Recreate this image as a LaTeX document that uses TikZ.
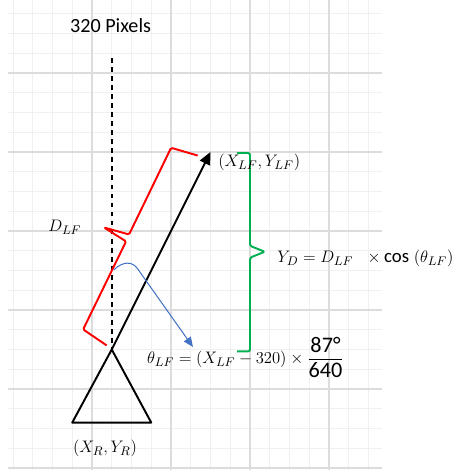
\documentclass[tikz,border=0pt]{standalone}
\usepackage{amsmath}
\usepackage{fontspec}
\usepackage{tikz}
\usepackage{xcolor}
\usetikzlibrary{arrows.meta}
\setsansfont{Carlito}
\definecolor{gridminor}{HTML}{F0F0F0}
\definecolor{gridmajor}{HTML}{DCDCDC}
\definecolor{bracered}{HTML}{FF0000}
\definecolor{bracegreen}{HTML}{00B050}
\definecolor{pointerblue}{HTML}{4472C4}
\newcommand{\labelsize}{\fontsize{12.5}{15}\selectfont}
\newcommand{\sfnum}[2][14]{\text{\fontsize{#1}{#1}\sffamily #2}}

\begin{document}
\begin{tikzpicture}[x=0.5cm, y=0.5cm, line join=round,
    thickline/.style={line width=1.4pt},
    eq/.style={anchor=base west, inner sep=0pt, font=\labelsize},
    lbl/.style={anchor=base, inner sep=0pt, font=\labelsize}]
    \useasboundingbox (-0.658,-0.203) rectangle (22.886,23.696);
    \draw[gridminor, line width=0.6pt, step=1] (-0.25,-0.1) grid (18.68,23.7);
    \foreach \x in {4,8,12,16}
        \draw[gridmajor, line width=0.8pt] (\x,-0.1) -- (\x,23.7);
    \foreach \y in {0,4,...,20}
        \draw[gridmajor, line width=0.8pt] (-0.25,\y) -- (18.68,\y);
    \coordinate (robot) at (5,6);
    \coordinate (target) at (10,16);
    \coordinate (dashtop) at (5,20.75);
    \coordinate (angle) at (5.1,10.03);
    \coordinate (thetatip) at (9.11,6.13);
    \node (pixlabel) [anchor=base, inner sep=0pt, font=\sffamily\fontsize{14.5}{17}\selectfont] at (4.94,22.03) {320 Pixels};
    \draw[line width=1.4pt, dash pattern=on 3.5pt off 3pt] (dashtop) -- (robot);
    \draw[thickline] (robot) -- (7,2.3) -- (3,2.3) -- cycle;
    \draw[thickline, -{Triangle[length=9pt, width=8pt]}] (robot) -- (target);
    \begin{scope}[shift={(robot)}, rotate=63.43]
        \draw[bracered, thickline, rounded corners=1pt] (0.07,0.32) -- (0.26,1.75) -- (5.22,1.8) -- (5.35,3.12) -- (5.6,1.82) -- (10.48,1.88) -- (10.73,0.5);
    \end{scope}
    \draw[bracegreen, thickline, rounded corners=1.5pt] (11.35,15.95) -- (12,15.95) -- (12,11.25) -- (12.75,10.95) -- (12,10.65) -- (12,5.9) -- (11.35,5.9);
    \draw[pointerblue, line width=0.75pt, -{Triangle[length=7pt, width=6pt]}] (angle) .. controls (5.6,10.5) and (6.05,10.45) .. (6.3,10.1) -- (thetatip);
    \node (dlabel) [lbl] at (2.63,11.95) {$D_{LF}$};
    \node (targetlabel) [eq] at (10.38,15.26) {$(X_{LF}, Y_{LF})$};
    \node (ydlabel) [eq, font=\fontsize{13}{15}\selectfont] at (13.37,10.38) {$Y_D = D_{LF}\;\ \times \sfnum[13.5]{cos}\;(\theta_{LF})$};
    \node (thetalabel) [eq] at (6.78,5.27) {$\theta_{LF} = (X_{LF} - 320) \times \dfrac{\sfnum[16]{87°}}{\sfnum[16]{640}}$};
    \node (robotlabel) [lbl] at (4.66,0.76) {$(X_R, Y_R)$};
\end{tikzpicture}
\end{document}
